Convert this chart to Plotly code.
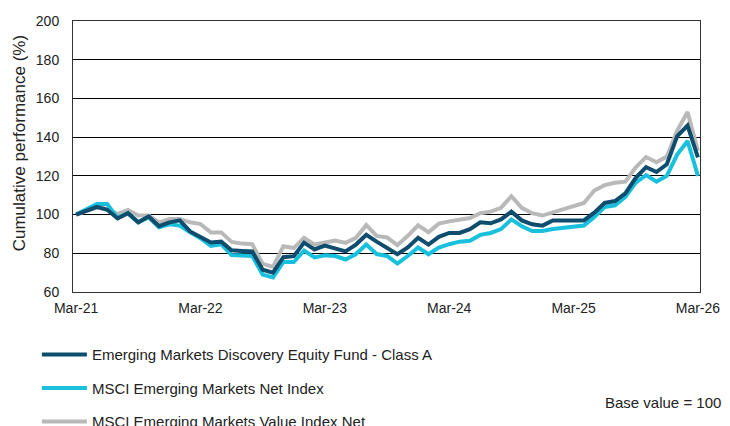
import plotly.graph_objects as go

months = ["Mar-21","Apr-21","May-21","Jun-21","Jul-21","Aug-21","Sep-21","Oct-21","Nov-21","Dec-21",
          "Jan-22","Feb-22","Mar-22","Apr-22","May-22","Jun-22","Jul-22","Aug-22","Sep-22","Oct-22","Nov-22","Dec-22",
          "Jan-23","Feb-23","Mar-23","Apr-23","May-23","Jun-23","Jul-23","Aug-23","Sep-23","Oct-23","Nov-23","Dec-23",
          "Jan-24","Feb-24","Mar-24","Apr-24","May-24","Jun-24","Jul-24","Aug-24","Sep-24","Oct-24","Nov-24","Dec-24",
          "Jan-25","Feb-25","Mar-25","Apr-25","May-25","Jun-25","Jul-25","Aug-25","Sep-25","Oct-25","Nov-25","Dec-25",
          "Jan-26","Feb-26","Mar-26"]

fund = [100, 102, 104, 102.5, 98, 100.7, 96, 99, 94, 96,
        97, 91.3, 88.5, 85.6, 86, 81.6, 81.2, 80.9, 71.5, 70, 78, 78.5,
        85.5, 82, 84, 82.5, 81, 84.5, 89.5, 86, 83, 79.5, 83, 88,
        84.5, 88.5, 90.5, 90.5, 92.5, 96, 95.5, 97.5, 101.5, 97, 95, 94.3,
        97, 97, 97, 97, 101, 106, 107, 111, 119, 124.5, 122, 126,
        140.5, 146, 129.5]

msci_em = [100, 103, 105.5, 105.5, 98.3, 100.7, 96, 98.6, 93.4, 95,
           94.3, 90.8, 87.8, 83.8, 84.7, 79.1, 79, 78.6, 69, 67.5, 75.5, 75.5,
           81.4, 77.9, 79, 78.6, 76.8, 79.6, 84.5, 79.6, 78.6, 74.7, 78.6, 83,
           79.5, 83, 84.7, 86, 86.5, 89.5, 90.5, 92.5, 97.5, 94, 91.5, 91.5,
           92.5, 93, 93.5, 94.3, 98.8, 103.9, 104.8, 109.2, 116.5, 120.4, 117, 120,
           131, 138, 120]

msci_value = [100, 101.5, 103.5, 103, 100.3, 102.4, 99.5, 99.5, 96, 97.7,
              97.7, 96, 95.1, 90.8, 90.8, 85.9, 85, 84.7, 74.5, 73, 83.6, 82.7,
              88, 84.5, 85.7, 86.6, 85.4, 88, 94.6, 89, 88.2, 84.2, 89, 94.4,
              90.9, 95.3, 96.5, 97.4, 98.2, 100.7, 101.5, 103.5, 109.5, 103.5, 100.7, 99.5,
              101, 102.5, 104, 106, 112.4, 115.2, 116.4, 117, 124.4, 129.7, 127, 130,
              143.4, 153, 133]

tick_labels = ["Mar-21", "Mar-22", "Mar-23", "Mar-24", "Mar-25", "Mar-26"]
y_ticks = [60, 80, 100, 120, 140, 160, 180, 200]

names = ["Emerging Markets Discovery Equity Fund - Class A",
         "MSCI Emerging Markets Net Index",
         "MSCI Emerging Markets Value Index Net"]
colors = ["#0e4d6e", "#18c0de", "#b9b9b9"]

FONT = "Liberation Sans, Arial, sans-serif"

fig = go.Figure()
series = [fund, msci_em, msci_value]
for idx in [2, 1, 0]:
    fig.add_trace(go.Scatter(
        x=months, y=series[idx], mode="lines", name=names[idx],
        line=dict(color=colors[idx], width=4), legendrank=idx + 1,
        legendgroup="g%d" % idx))

fig.update_layout(
    width=722, height=418,
    margin=dict(l=65, r=30, t=13, b=134, autoexpand=False),
    paper_bgcolor="white", plot_bgcolor="white",
    font=dict(family=FONT, size=14, color="#222"),
    showlegend=True,
    legend=dict(xref="container", yref="container", x=0.04, y=0.21, xanchor="left", yanchor="top",
                traceorder="grouped", tracegroupgap=11,
                font=dict(size=15, color="#222"), bgcolor="rgba(0,0,0,0)",
                itemwidth=45),
    xaxis=dict(type="category", range=[-0.3, 60.2], tickvals=tick_labels, ticktext=tick_labels,
               showgrid=False, showline=True, linecolor="#333", linewidth=1, mirror=True,
               ticks="", ticklabelstandoff=3,
               tickfont=dict(size=14, color="#222"), zeroline=False),
    yaxis=dict(range=[60, 200], tickvals=y_ticks, showgrid=True, gridcolor="#000", gridwidth=1,
               showline=True, linecolor="#333", linewidth=1, mirror=True,
               ticks="outside", ticklen=10, tickcolor="rgba(0,0,0,0)",
               tickfont=dict(size=14, color="#222"), zeroline=False),
    annotations=[
        dict(text="Cumulative performance (%)", xref="paper", yref="paper",
             x=-0.084, y=0.55, xanchor="center", yanchor="middle", textangle=-90,
             showarrow=False, font=dict(size=17, color="#222")),
        dict(text="Base value = 100", xref="paper", yref="paper",
             x=1.037, y=-0.406, xanchor="right", yanchor="middle", showarrow=False,
             font=dict(size=15, color="#222")),
    ],
)

fig.write_html("out.html")
